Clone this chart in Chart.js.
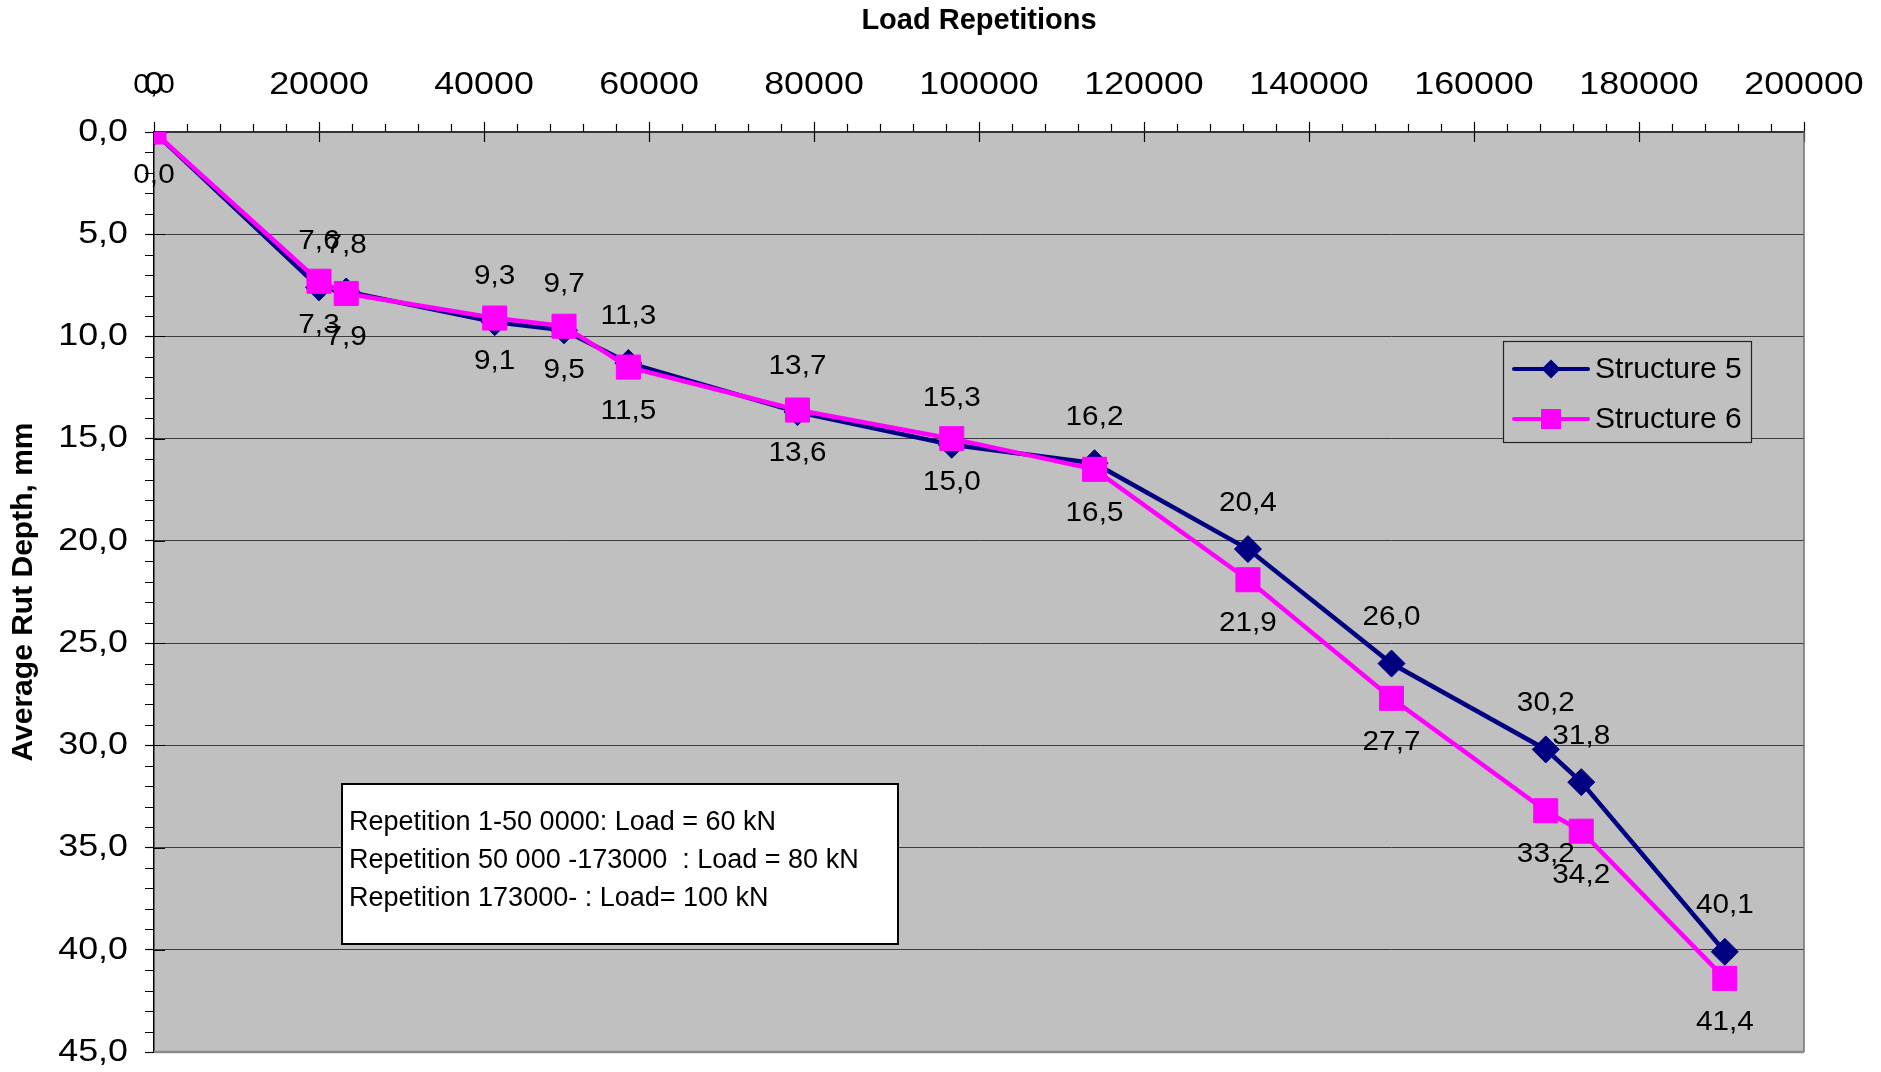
<!DOCTYPE html>
<html>
<head>
<meta charset="utf-8">
<title>Average Rut Depth vs Load Repetitions</title>
<script src="https://cdn.jsdelivr.net/npm/chart.js@4/dist/chart.umd.min.js"></script>
<style>
  html, body { margin: 0; padding: 0; background: #ffffff; }
  #wrap { width: 1881px; height: 1072px; position: relative; }
</style>
</head>
<body>
<div id="wrap"><canvas id="rut"></canvas></div>
<script>
// Load repetitions at each measurement
const repetitions = [0, 20000, 23300, 41300, 49700, 57500, 78000, 96700, 114000, 132600, 150000, 168700, 173000, 190400];
// Average rut depth (mm)
const structure5 = [0.0, 7.6, 7.8, 9.3, 9.7, 11.3, 13.7, 15.3, 16.2, 20.4, 26.0, 30.2, 31.8, 40.1];
const structure6 = [0.0, 7.3, 7.9, 9.1, 9.5, 11.5, 13.6, 15.0, 16.5, 21.9, 27.7, 33.2, 34.2, 41.4];
const seriesNames = ['Structure 5', 'Structure 6'];
// Axis ticks
const xTickStep = 20000, xMax = 200000;
const yTickStep = 5, yMax = 45;
// Load schedule note
const noteLines = [
  'Repetition 1-50 0000: Load = 60 kN',
  'Repetition 50 000 -173000  : Load = 80 kN',
  'Repetition 173000- : Load= 100 kN'
];

const FONT = "'Liberation Sans', Arial, Helvetica, sans-serif";
const NAVY = '#000080';
const MAGENTA = '#FF00FF';
const PLOT_BG = '#C0C0C0';
const TICK_STRETCH = 1.12;   // tick labels are drawn slightly wide
const LABEL_STRETCH = 1.1;   // value labels likewise
const comma = v => v.toFixed(1).replace('.', ',');

const toPoints = ys => ys.map((y, i) => ({ x: repetitions[i], y }));

// Horizontally widened text for the regular-weight axis labels
const wideText = {
  id: 'wideText',
  beforeInit(chart) {
    const ctx = chart.ctx;
    const plain = ctx.fillText.bind(ctx);
    ctx._plainFillText = plain;
    ctx._stretch = 1;
    ctx.fillText = function (text, x, y, maxWidth) {
      const k = this._stretch;
      if (k === 1 || /bold/.test(this.font)) return plain(text, x, y, maxWidth);
      this.save();
      this.translate(x, y);
      this.scale(k, 1);
      plain(text, 0, 0);
      this.restore();
    };
  },
  beforeDraw(chart) { chart.ctx._stretch = TICK_STRETCH; },
  beforeDatasetsDraw(chart) { chart.ctx._stretch = 1; }
};

// Grey plot area
const plotBackground = {
  id: 'plotBackground',
  beforeDraw(chart) {
    const { ctx, chartArea: a } = chart;
    ctx.save();
    ctx.fillStyle = PLOT_BG;
    ctx.fillRect(a.left, a.top, a.right - a.left, a.bottom - a.top);
    ctx.restore();
  }
};

// Minor ticks, inner half of major ticks, right/bottom frame
const axisDecor = {
  id: 'axisDecor',
  beforeDatasetsDraw(chart) {
    const { ctx, chartArea: a, scales: { x, y } } = chart;
    ctx.save();
    ctx.strokeStyle = '#000';
    ctx.lineWidth = 1.2;
    ctx.beginPath();
    for (let v = 0; v <= xMax; v += xTickStep / 5) {
      const px = Math.round(x.getPixelForValue(v)) + 0.5;
      if (v % xTickStep === 0) {
        ctx.moveTo(px, a.top); ctx.lineTo(px, a.top + 10);
      } else {
        ctx.moveTo(px, a.top - 8); ctx.lineTo(px, a.top);
      }
    }
    for (let v = 0; v <= yMax; v += yTickStep / 5) {
      const py = Math.round(y.getPixelForValue(v)) + 0.5;
      if (Math.abs(v % yTickStep) < 1e-9) {
        ctx.moveTo(a.left, py); ctx.lineTo(a.left + 11, py);
      } else {
        ctx.moveTo(a.left - 9, py); ctx.lineTo(a.left, py);
      }
    }
    ctx.stroke();
    ctx.strokeStyle = '#707070';
    ctx.lineWidth = 1.5;
    ctx.beginPath();
    ctx.moveTo(a.right, a.top); ctx.lineTo(a.right, a.bottom);
    ctx.stroke();
    ctx.strokeStyle = '#8a8a8a';
    ctx.lineWidth = 2.5;
    ctx.beginPath();
    ctx.moveTo(a.left, a.bottom); ctx.lineTo(a.right, a.bottom);
    ctx.stroke();
    ctx.restore();
  }
};

// Value labels: Structure 5 above its points, Structure 6 below
const valueLabels = {
  id: 'valueLabels',
  afterDatasetsDraw(chart) {
    const { ctx } = chart;
    const draw = ctx._plainFillText;
    ctx.save();
    ctx.font = `27px ${FONT}`;
    ctx.fillStyle = '#000';
    ctx.textAlign = 'center';
    ctx.textBaseline = 'middle';
    chart.data.datasets.forEach((ds, di) => {
      const meta = chart.getDatasetMeta(di);
      const shift = ds.labelShift;
      meta.data.forEach((pt, i) => {
        ctx.save();
        ctx.translate(pt.x, pt.y + shift);
        ctx.scale(LABEL_STRETCH, 1);
        draw(comma(ds.data[i].y), 0, 0);
        ctx.restore();
      });
    });
    ctx.restore();
  }
};

// Legend box and load note
const overlays = {
  id: 'overlays',
  afterDraw(chart) {
    const { ctx } = chart;
    const draw = ctx._plainFillText;
    ctx.save();
    // legend
    const lx = 1503, ly = 341, lw = 248, lh = 101;
    ctx.fillStyle = PLOT_BG;
    ctx.fillRect(lx, ly, lw, lh);
    ctx.strokeStyle = '#222';
    ctx.lineWidth = 1.2;
    ctx.strokeRect(lx + 0.5, ly + 0.5, lw, lh);
    const order = [1, 0]; // Structure 5 first
    const rowsY = [369, 419];
    ctx.font = `30px ${FONT}`;
    ctx.textBaseline = 'middle';
    ctx.textAlign = 'left';
    order.forEach((di, r) => {
      const ds = chart.data.datasets[di];
      const yy = rowsY[r];
      ctx.strokeStyle = ds.borderColor;
      ctx.lineWidth = 4;
      ctx.lineCap = 'round';
      ctx.beginPath();
      ctx.moveTo(1514, yy); ctx.lineTo(1588, yy);
      ctx.stroke();
      ctx.fillStyle = ds.pointBackgroundColor;
      if (ds.pointStyle === 'rectRot') {
        const r0 = 9.5;
        ctx.beginPath();
        ctx.moveTo(1551 - r0, yy); ctx.lineTo(1551, yy - r0);
        ctx.lineTo(1551 + r0, yy); ctx.lineTo(1551, yy + r0);
        ctx.closePath(); ctx.fill();
      } else {
        ctx.fillRect(1551 - 10, yy - 10, 20, 20);
      }
      ctx.fillStyle = '#000';
      draw(ds.label, 1595, yy + 1);
    });
    // load schedule note
    const bx = 342, by = 784, bw = 556, bh = 160;
    ctx.fillStyle = '#fff';
    ctx.fillRect(bx, by, bw, bh);
    ctx.strokeStyle = '#000';
    ctx.lineWidth = 2;
    ctx.strokeRect(bx, by, bw, bh);
    ctx.fillStyle = '#000';
    ctx.font = `27px ${FONT}`;
    noteLines.forEach((t, i) => draw(t, 349, 823 + i * 38));
    ctx.restore();
  }
};

new Chart(document.getElementById('rut'), {
  type: 'line',
  data: {
    datasets: [
      {
        label: seriesNames[1],
        data: toPoints(structure6),
        borderColor: MAGENTA,
        backgroundColor: MAGENTA,
        pointBackgroundColor: MAGENTA,
        pointBorderColor: MAGENTA,
        pointBorderWidth: 1,
        pointStyle: 'rect',
        pointRadius: 17,
        borderWidth: 4.5,
        tension: 0,
        order: 0,
        labelShift: 44
      },
      {
        label: seriesNames[0],
        data: toPoints(structure5),
        borderColor: NAVY,
        backgroundColor: NAVY,
        pointBackgroundColor: NAVY,
        pointBorderColor: NAVY,
        pointBorderWidth: 1,
        pointStyle: 'rectRot',
        pointRadius: 13.5,
        borderWidth: 4.5,
        tension: 0,
        order: 1,
        labelShift: -46
      }
    ]
  },
  options: {
    responsive: true,
    maintainAspectRatio: false,
    devicePixelRatio: 1,
    animation: false,
    events: [],
    layout: { padding: { left: 0, top: 0, right: 77, bottom: 20 } },
    plugins: {
      legend: { display: false },
      tooltip: { enabled: false },
      title: { display: false }
    },
    scales: {
      x: {
        type: 'linear',
        position: 'top',
        min: 0,
        max: xMax,
        ticks: {
          stepSize: xTickStep,
          autoSkip: false,
          maxRotation: 0,
          padding: 18,
          color: '#000',
          font: { family: FONT, size: 32 },
          callback: v => String(v)
        },
        grid: { drawOnChartArea: false, drawTicks: true, tickLength: 10, tickColor: '#000', tickWidth: 1.2 },
        border: { display: true, color: '#333', width: 2 },
        title: {
          display: true,
          text: 'Load Repetitions',
          color: '#000',
          font: { family: FONT, size: 29, weight: 'bold' },
          padding: { top: 4, bottom: 0 }
        },
        afterFit(scale) {
          scale.height = 132;
          scale.paddingLeft = 0;
          scale.paddingRight = 0;
        }
      },
      y: {
        type: 'linear',
        reverse: true,
        min: 0,
        max: yMax,
        ticks: {
          stepSize: yTickStep,
          padding: 17,
          color: '#000',
          font: { family: FONT, size: 32 },
          callback: v => comma(v)
        },
        grid: { color: '#3c3c3c', lineWidth: 1, drawTicks: true, tickLength: 9, tickColor: '#000', tickWidth: 1.2 },
        border: { display: true, color: '#000', width: 1.5 },
        title: {
          display: true,
          text: 'Average Rut Depth, mm',
          color: '#000',
          font: { family: FONT, size: 30, weight: 'bold' },
          padding: { top: 6, bottom: 0 }
        },
        afterFit(scale) {
          scale.width = 154;
          scale.paddingTop = 0;
          scale.paddingBottom = 0;
        }
      }
    }
  },
  plugins: [wideText, plotBackground, axisDecor, valueLabels, overlays]
});
</script>
</body>
</html>
